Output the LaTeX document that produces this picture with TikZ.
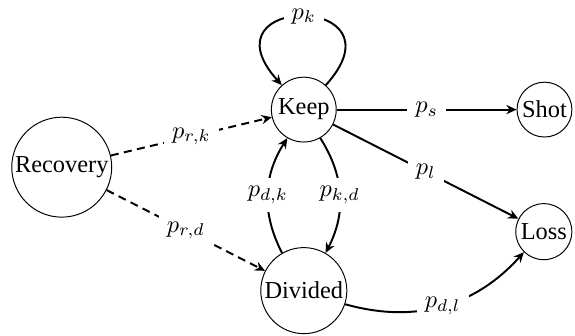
\documentclass[tikz,border=0pt]{standalone}
\usepackage{fontspec}
\setmainfont{Liberation Serif}
\usepackage{tikz}
\usetikzlibrary{arrows.meta,positioning}

\begin{document}
\begin{tikzpicture}[font=\normalsize,>={Stealth[length=4.2pt,width=3.8pt]},
  st/.style={draw,circle,thin,inner sep=0.5pt},
  tr/.style={->,thick},
  rec/.style={->,thick,dash pattern=on 3.3pt off 2.2pt},
  lab/.style={fill=white}]
  \useasboundingbox (0,0) rectangle (8.29,-4.84);
  \foreach \x/\y/\n/\t/\s in {0.89/-2.41/rcv/Recovery/41pt,4.38/-1.58/keep/Keep/26.6pt,
      7.85/-1.58/shot/Shot/22.5pt,7.84/-3.34/loss/Loss/23pt,4.38/-4.19/div/Divided/35.3pt}{
    \node[st,minimum size=\s] (\n) at (\x,\y) {\t};
  }
  \draw[tr] (keep) to[out=48,in=132,looseness=7.2] node[lab,inner ysep=1pt]{$p_k$} (keep);
  \draw[rec] (rcv) -- node[lab]{$p_{r,k}$} (keep);
  \draw[rec] (rcv) -- node[lab]{$p_{r,d}$} (div);
  \draw[tr] (keep) -- node[lab]{$p_s$} (shot);
  \draw[tr] (keep) -- node[lab]{$p_l$} (loss);
  \draw[tr] (keep) to[bend left=30] node[lab]{$p_{k,d}$} (div);
  \draw[tr] (div) to[bend left=30] node[lab]{$p_{d,k}$} (keep);
  \draw[tr] (div) to[bend right=32] node[lab]{$p_{d,l}$} (loss);
\end{tikzpicture}
\end{document}
